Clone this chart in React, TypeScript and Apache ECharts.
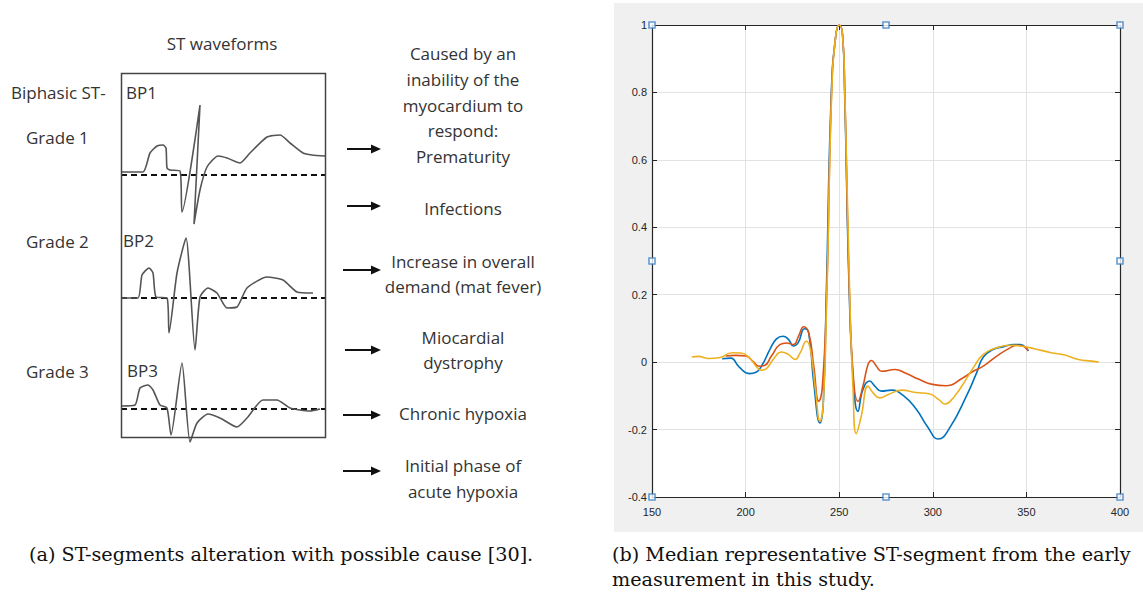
import React, { useEffect, useRef } from "react";
import * as echarts from "echarts";

// ---------- Right panel: median representative ST-segments ----------
const xMin = 150;
const xMax = 400;
const xStep = 50;
const yMin = -0.4;
const yMax = 1;
const yStep = 0.2;

const blueSegment: [number, number][] = [
  [187.5, 0.01], [192, 0.012], [196.6, -0.015], [202, -0.034], [205.6, -0.03],
  [209, -0.007], [213, 0.038], [216.5, 0.069], [220, 0.077], [223, 0.067],
  [225.5, 0.048], [228, 0.057], [231.5, 0.099], [233.7, 0.087], [236.4, -0.061],
  [239.7, -0.18], [241.5, -0.12], [243.1, 0.2], [245.8, 0.8], [248.2, 0.97],
  [250, 1.0], [251.8, 0.97], [252.9, 0.8], [255.4, 0.2], [257.6, -0.06],
  [260, -0.146], [262.7, -0.081], [266.3, -0.056], [269, -0.071], [272.6, -0.086],
  [278, -0.083], [284, -0.098], [291, -0.138], [297, -0.19], [303, -0.228],
  [309, -0.195], [318, -0.1], [323.4, -0.032],
  [327, 0.015], [332.4, 0.038], [337.9, 0.046], [343.3, 0.052], [346.9, 0.052],
  [350.5, 0.038], [351, 0.033],
];

const redSegment: [number, number][] = [
  [189.3, 0.018], [194.7, 0.02], [200.2, 0.018], [203.8, 0.003], [207.4, -0.012],
  [210.1, -0.01], [213.8, 0.018], [218.3, 0.052], [221.9, 0.057], [225.5, 0.052],
  [228.3, 0.077], [231, 0.105], [233.7, 0.087], [236.4, -0.012], [239.1, -0.116],
  [240.9, -0.08], [243.3, 0.2], [245.9, 0.8], [248.2, 0.97], [250, 1.0],
  [251.8, 0.97], [253, 0.8], [255.5, 0.2], [257.8, -0.061], [260, -0.116],
  [262.7, -0.071], [265.4, -0.007], [267.2, 0.005], [269.9, -0.012], [272.6, -0.027],
  [279.9, -0.022], [285.3, -0.032], [292.6, -0.051], [299.8, -0.066], [307, -0.07],
  [316, -0.047], [321.6, -0.027], [327, -0.012], [334.2, 0.018],
  [341.5, 0.043], [345.1, 0.05], [348.7, 0.046], [350.9, 0.033],
];

const yellowSegment: [number, number][] = [
  [171.2, 0.015], [174.8, 0.017], [180.3, 0.011], [185.7, 0.013], [192.9, 0.028],
  [197.5, 0.027], [202, 0.013], [205.6, -0.012], [208.3, -0.024], [211, -0.02],
  [214.7, 0.008], [219.2, 0.03], [222.8, 0.023], [226.4, 0.008], [229.2, 0.028],
  [232.4, 0.062], [234.6, 0.038], [237.3, -0.081], [239.7, -0.175], [241.5, -0.12],
  [243.4, 0.2], [246, 0.8], [248.2, 0.97], [250, 1.0], [251.8, 0.97],
  [253, 0.8], [255.6, 0.2], [257.4, -0.081], [259.1, -0.212], [261.8, -0.16],
  [265.4, -0.071], [268.1, -0.091], [271.7, -0.106], [276.3, -0.096], [283.5, -0.083],
  [290.8, -0.09], [298, -0.094], [303.4, -0.112], [306.5, -0.124], [309, -0.118],
  [314.3, -0.081], [321.6, -0.017], [327, 0.023], [334.2, 0.043], [341.5, 0.05],
  [346.9, 0.048], [354.2, 0.04], [363.2, 0.028], [370.5, 0.021], [377.7, 0.008],
  [385, 0.003], [388.6, 0],
];

const handlePoints: [number, number][] = [
  [150, 1], [275, 1], [400, 1], [150, 0.3], [400, 0.3], [150, -0.4], [275, -0.4], [400, -0.4],
];

// ---------- Left panel: schematic ST waveforms (time units, amplitude above dashed baseline) ----------
const bp1Wave: [number, number][] = [
  [0, 3], [22, 3], [29, 22], [36, 29], [42, 30], [45, 27], [46, 7], [49, 5], [59, 4],
  [61, -37], [79, 70], [73, -49], [79, -15], [86, 8], [97, 19], [106, 17], [119, 12],
  [129, 22], [146, 38], [159, 40], [169, 32], [182, 22], [191, 20], [204, 19],
];
const bp2Wave: [number, number][] = [
  [0, 0], [17, 0], [21, 23], [28, 30], [32, 25], [35, 1], [46, 0], [48, -35], [56, 25],
  [65, 60], [74, -52], [79, 1], [87, 10], [96, 5], [106, -10], [116, -9], [126, 10],
  [146, 21], [162, 18], [176, 6], [192, 5],
];
const bp3Wave: [number, number][] = [
  [0, 3], [14, 4], [19, 21], [27, 24], [32, 19], [39, 4], [46, 1], [50, -26], [61, 46],
  [69, -33], [76, -14], [87, -5], [99, -9], [116, -18], [126, -9], [142, 9], [156, 9],
  [169, 1], [189, -2], [199, 0],
];
const baselineSpan: [number, number][] = [[0, 0], [204, 0]];

const waveLabels = ["BP1", "BP2", "BP3"];
const gradeLabels = ["Grade 1", "Grade 2", "Grade 3"];
const causeLines = [
  "Caused by an", "inability of the", "myocardium to", "respond:", "Prematurity",
  "Infections",
  "Increase in overall", "demand (mat fever)",
  "Miocardial", "dystrophy",
  "Chronic hypoxia",
  "Initial phase of", "acute hypoxia",
];
const captionA = "(a) ST-segments alteration with possible cause [30].";
const captionB1 = "(b) Median representative ST-segment from the early";
const captionB2 = "measurement in this study.";

const MATLAB_BLUE = "#0072BD";
const MATLAB_RED = "#D95319";
const MATLAB_YELLOW = "#EDB120";
const AX = "#262626";

export default function App() {
  const ref = useRef<HTMLDivElement>(null);

  useEffect(() => {
    if (!ref.current) return;
    const chart = echarts.init(ref.current, undefined, { renderer: "svg" });

    const sansFont = '"Open Sans", "Noto Sans", sans-serif';
    const serifFont = '19.2px "DejaVu Serif", "Liberation Serif", serif';
    const baseLines = [175, 298, 409];
    const causeYs = [53, 79, 105, 130, 156, 208, 261, 286, 337, 362, 413, 465, 491];
    const arrowRows = [
      { y: 149, x1: 347 }, { y: 206, x1: 347 }, { y: 270, x1: 343 },
      { y: 350, x1: 345 }, { y: 415, x1: 343 }, { y: 471, x1: 343 },
    ];

    const text = (t: string, x: number, y: number, opts: any = {}) => ({
      type: "text",
      x,
      y,
      z: 10,
      style: {
        text: t,
        fill: opts.fill || "#333",
        font: opts.font || `17px ${sansFont}`,
        textAlign: opts.align || "left",
        textVerticalAlign: "middle",
        align: opts.align || "left",
        verticalAlign: "middle",
      },
    });

    const graphic: any[] = [
      { type: "rect", z: -10, shape: { x: 614, y: 3, width: 529, height: 529 }, style: { fill: "#f0f0f0" } },
      { type: "rect", z: 10, shape: { x: 121.5, y: 73.5, width: 204, height: 364 }, style: { fill: "none", stroke: "#444", lineWidth: 1.5 } },
      text("ST waveforms", 222, 43, { align: "center" }),
      text("Biphasic ST-", 11, 92),
      text(waveLabels[0], 126, 92),
      text(gradeLabels[0], 26, 137),
      text(gradeLabels[1], 26, 241),
      text(waveLabels[1], 123, 240),
      text(gradeLabels[2], 26, 371),
      text(waveLabels[2], 127, 370),
      ...causeLines.map((t, i) => text(t, 463, causeYs[i], { align: "center" })),
      ...arrowRows.flatMap((a) => [
        { type: "line", z: 10, shape: { x1: a.x1, y1: a.y, x2: 376, y2: a.y }, style: { stroke: "#111", lineWidth: 2 } },
        { type: "polygon", z: 10, shape: { points: [[371, a.y - 4.5], [381, a.y], [371, a.y + 4.5]] }, style: { fill: "#111" } },
      ]),
      text(captionA, 29, 554, { fill: "#111", font: serifFont }),
      text(captionB1, 612, 554, { fill: "#111", font: serifFont }),
      text(captionB2, 612, 579, { fill: "#111", font: serifFont }),
    ];

    const fmt = (v: number) => String(+v.toFixed(1));

    const leftGrids = baseLines.map((b) => ({ left: 121, top: b - 75, width: 204, height: 150 }));

    const option: any = {
      animation: false,
      graphic,
      grid: [
        { left: 652, top: 25, width: 468, height: 472, show: true, backgroundColor: "#ffffff", borderWidth: 0 },
        ...leftGrids,
      ],
      xAxis: [
        {
          type: "value", gridIndex: 0, position: "bottom", min: xMin, max: xMax, interval: xStep,
          axisLine: { show: true, onZero: false, lineStyle: { color: AX, width: 1.2 } },
          axisTick: { show: true, inside: true, length: 5, lineStyle: { color: AX } },
          axisLabel: { color: AX, fontSize: 11, fontFamily: '"Liberation Sans", Arial, sans-serif', margin: 9 },
          splitLine: { show: true, lineStyle: { color: "#e2e2e2", width: 1 } },
        },
        {
          type: "value", gridIndex: 0, position: "top", min: xMin, max: xMax, interval: xStep,
          axisLine: { show: true, onZero: false, lineStyle: { color: AX, width: 1.2 } },
          axisTick: { show: true, inside: true, length: 5, lineStyle: { color: AX } },
          axisLabel: { show: false },
          splitLine: { show: false },
        },
        ...leftGrids.map((_, i) => ({ type: "value", gridIndex: i + 1, min: 0, max: 204, show: false })),
      ],
      yAxis: [
        {
          type: "value", gridIndex: 0, position: "left", min: yMin, max: yMax, interval: yStep,
          axisLine: { show: true, onZero: false, lineStyle: { color: AX, width: 1.2 } },
          axisTick: { show: true, inside: true, length: 5, lineStyle: { color: AX } },
          axisLabel: { color: AX, fontSize: 11, fontFamily: '"Liberation Sans", Arial, sans-serif', margin: 5, formatter: fmt },
          splitLine: { show: true, lineStyle: { color: "#e2e2e2", width: 1 } },
        },
        {
          type: "value", gridIndex: 0, position: "right", min: yMin, max: yMax, interval: yStep,
          axisLine: { show: true, onZero: false, lineStyle: { color: AX, width: 1.2 } },
          axisTick: { show: true, inside: true, length: 5, lineStyle: { color: AX } },
          axisLabel: { show: false },
          splitLine: { show: false },
        },
        ...leftGrids.map((_, i) => ({ type: "value", gridIndex: i + 1, min: -75, max: 75, show: false })),
      ],
      series: [
        ...[
          { data: blueSegment, color: MATLAB_BLUE },
          { data: redSegment, color: MATLAB_RED },
          { data: yellowSegment, color: MATLAB_YELLOW },
        ].map((s) => ({
          type: "line", xAxisIndex: 0, yAxisIndex: 0, data: s.data, smooth: 0.5,
          showSymbol: false, symbol: "none", lineStyle: { color: s.color, width: 1.6 }, z: 3,
        })),
        {
          type: "scatter", xAxisIndex: 0, yAxisIndex: 0, data: handlePoints, symbol: "rect", symbolSize: 6,
          clip: false, z: 5,
          itemStyle: { color: "#ffffff", borderColor: "#3d82c4", borderWidth: 1.6 },
        },
        ...[bp1Wave, bp2Wave, bp3Wave].flatMap((w, i) => [
          {
            type: "line", xAxisIndex: i + 2, yAxisIndex: i + 2, data: baselineSpan, symbol: "none",
            lineStyle: { color: "#111", width: 2, type: [6, 4] }, z: 3,
          },
          {
            type: "line", xAxisIndex: i + 2, yAxisIndex: i + 2, data: w, symbol: "none", smooth: 0.2,
            lineStyle: { color: "#555", width: 1.6 }, z: 4,
          },
        ]),
      ],
    };

    chart.setOption(option);
    return () => chart.dispose();
  }, []);

  return (
    <div
      ref={ref}
      style={{ position: "fixed", left: 0, top: 0, width: 1143, height: 593, background: "#ffffff" }}
    />
  );
}
